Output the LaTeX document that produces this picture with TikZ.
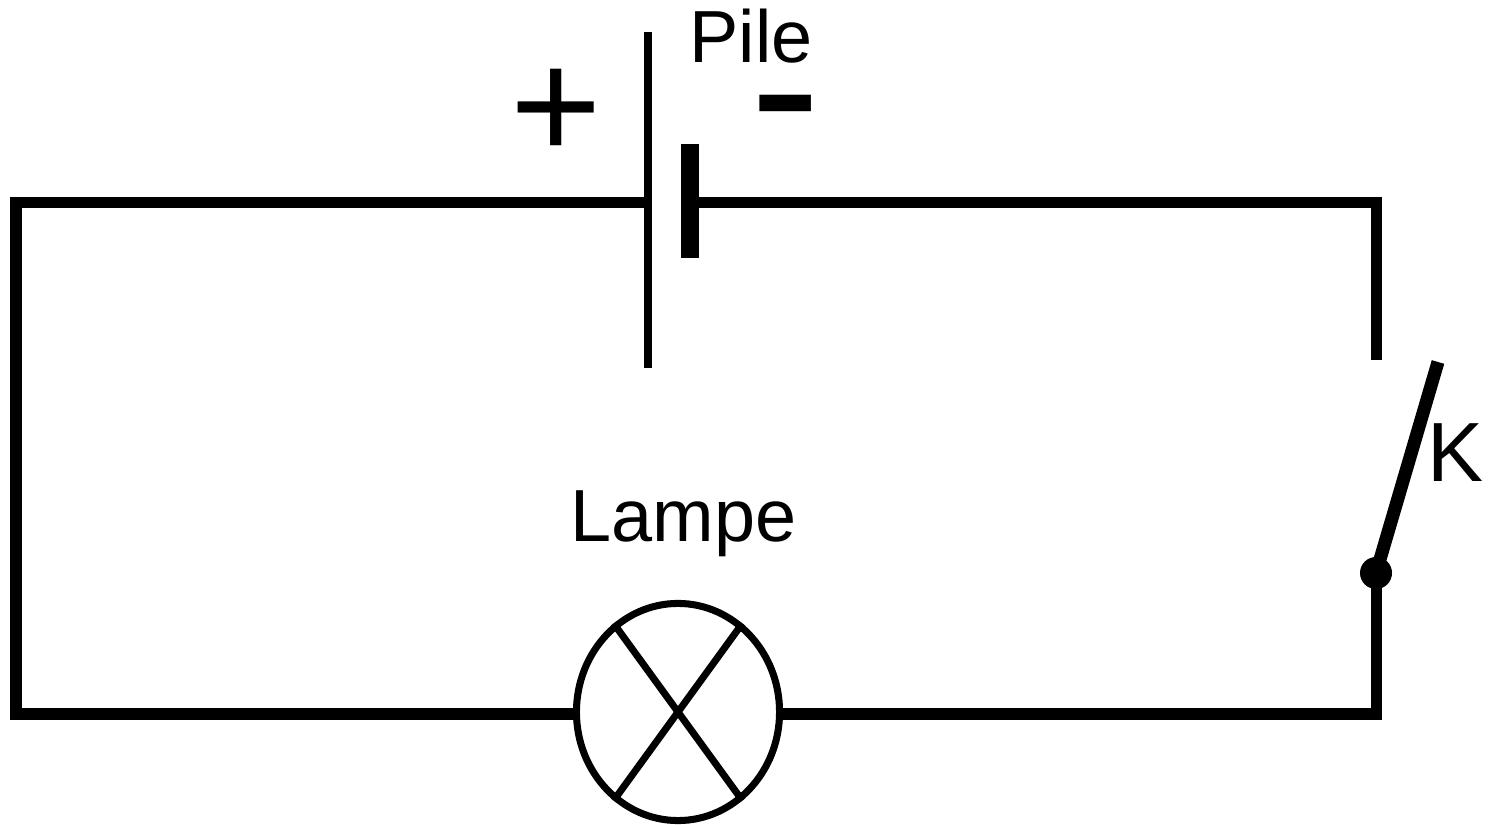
\documentclass[tikz,border=0pt]{standalone}
\usepackage{fontspec}
\setmainfont{Liberation Sans}
\usetikzlibrary{shapes.geometric}

\begin{document}
\begin{tikzpicture}[x=0.01cm,y=-0.01cm,
  wire/.style={black,line width=3.13pt},
  label/.style={inner sep=0pt,anchor=base west,font=\fontsize{21}{24}\selectfont}]
\useasboundingbox (0,0) rectangle (1488,825);
% corners and ends of the wires
\coordinate (tl) at (16,203);
\coordinate (bl) at (16,714);
\coordinate (tr) at (1376,203);
\coordinate (br) at (1376,714);
\coordinate (kend) at (1376,360);
\coordinate (kfree) at (1438,362);
% battery
\coordinate (pplus) at (648,203);
\coordinate (pminus) at (690,203);
\draw [black,line width=2.28pt] (648,32) -- (648,368);
\draw [black,line width=5.1pt] (690,144) -- (690,258);
\node [label,font=\fontsize{44.5}{48}\selectfont] (plus) at (510,160) {+};
\node [label,font=\fontsize{60}{62}\selectfont] (minus) at (750,160) {-};
\node [label] (pile) at (689,63) {Pile};
% lamp
\node [draw,black,line width=2pt,ellipse,inner sep=0pt,minimum width=2.03cm,minimum height=2.17cm] (lamp) at (678,712) {};
\draw [black,line width=2pt] (lamp.126) -- (lamp.306);
\draw [black,line width=2pt] (lamp.54) -- (lamp.234);
\node [label] (lampe) at (570,542) {Lampe};
% switch
\node [circle,fill=black,inner sep=0pt,minimum size=0.32cm] (kdot) at (1376,573) {};
\draw [black,line width=3.7pt] (kdot.center) -- (kfree);
\node [label,font=\fontsize{23.9}{28}\selectfont] (k) at (1427,482) {K};
% wires
\draw [wire] (pplus) -- (tl) -- (bl) -- (lamp.west |- bl);
\draw [wire] (pminus) -- (tr) -- (kend);
\draw [wire] (lamp.east |- br) -- (br) -- (kdot.center);
\end{tikzpicture}
\end{document}
